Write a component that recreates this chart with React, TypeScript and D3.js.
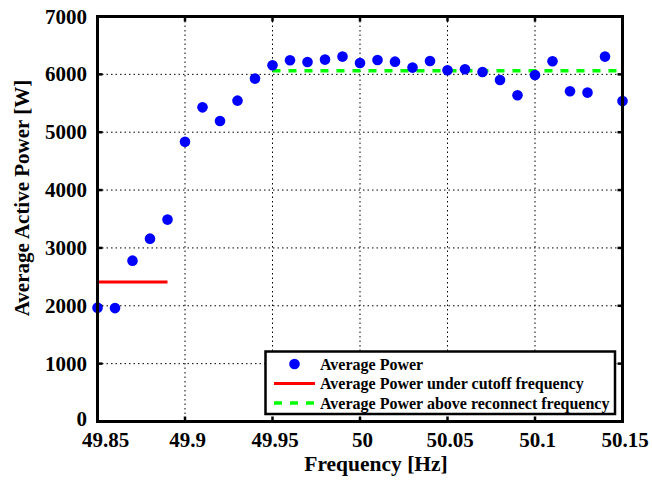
import React from "react";
import * as d3 from "d3";

const freqs = [49.85, 49.86, 49.87, 49.88, 49.89, 49.9, 49.91, 49.92, 49.93, 49.94, 49.95, 49.96, 49.97, 49.98, 49.99, 50.0, 50.01, 50.02, 50.03, 50.04, 50.05, 50.06, 50.07, 50.08, 50.09, 50.1, 50.11, 50.12, 50.13, 50.14, 50.15];
const powers = [1968, 1960, 2780, 3160, 3490, 4836, 5430, 5193, 5546, 5927, 6157, 6244, 6214, 6255, 6307, 6197, 6249, 6220, 6117, 6232, 6071, 6088, 6041, 5903, 5638, 5989, 6226, 5707, 5685, 6307, 5539];
const cutoffRange = [49.85, 49.89];
const cutoffPower = 2413;
const reconnectRange = [49.95, 50.15];
const reconnectPower = 6062;
const xTicks = [49.85, 49.9, 49.95, 50, 50.05, 50.1, 50.15];
const xTickLabels = ["49.85", "49.9", "49.95", "50", "50.05", "50.1", "50.15"];
const yTicks = [0, 1000, 2000, 3000, 4000, 5000, 6000, 7000];
const legendLabels = ["Average Power", "Average Power under cutoff frequency", "Average Power above reconnect frequency"];

export default function App() {
  const L = 97.5, R = 622.5, T = 16.5, B = 421.5;
  const x = d3.scaleLinear().domain([49.85, 50.15]).range([L, R]);
  const y = d3.scaleLinear().domain([0, 7000]).range([B, T]);
  const font = "'Liberation Serif', 'Times New Roman', serif";
  const line = d3.line<[number, number]>().x(d => x(d[0])).y(d => y(d[1]));
  const lx = 265.5, ly = 351.5, lw = 349.5, lh = 62.5;
  return (
    <svg width={652} height={483} style={{ position: "absolute", left: 0, top: 0, background: "#fff" }} fontFamily={font}>
      <rect x={0} y={0} width={652} height={483} fill="#fff" />
      {/* grid */}
      {xTicks.slice(1, -1).map((t, i) => (
        <line key={"gx" + i} x1={x(t)} x2={x(t)} y1={T} y2={B} stroke="#000" strokeWidth={1} strokeDasharray="1.5,3" />
      ))}
      {yTicks.slice(1, -1).map((t, i) => (
        <line key={"gy" + i} x1={L} x2={R} y1={y(t)} y2={y(t)} stroke="#000" strokeWidth={1} strokeDasharray="1.5,3" />
      ))}
      {/* ticks */}
      {xTicks.map((t, i) => (
        <g key={"tx" + i}>
          <line x1={x(t)} x2={x(t)} y1={B} y2={B - 5} stroke="#000" strokeWidth={2.5} />
          <line x1={x(t)} x2={x(t)} y1={T} y2={T + 5} stroke="#000" strokeWidth={2.5} />
          <text x={x(t) + (i === 0 ? 8 : 2.5)} y={446.5} textAnchor="middle" fontSize={21} fontWeight="bold">{xTickLabels[i]}</text>
        </g>
      ))}
      {yTicks.map((t, i) => (
        <g key={"ty" + i}>
          <line x1={L} x2={L + 5} y1={y(t)} y2={y(t)} stroke="#000" strokeWidth={2.5} />
          <line x1={R} x2={R - 5} y1={y(t)} y2={y(t)} stroke="#000" strokeWidth={2.5} />
          <text x={87} y={y(t) + (i === 0 ? 4 : 7)} textAnchor="end" fontSize={21} fontWeight="bold">{t}</text>
        </g>
      ))}
      {/* series */}
      <path d={line([[cutoffRange[0], cutoffPower], [cutoffRange[1], cutoffPower]]) || ""} stroke="#ff0000" strokeWidth={3} fill="none" />
      <path d={line([[reconnectRange[0], reconnectPower], [reconnectRange[1], reconnectPower]]) || ""} stroke="#00ff00" strokeWidth={3.5} strokeDasharray="8,8" fill="none" />
      {freqs.map((f, i) => (
        <circle key={"p" + i} cx={x(f)} cy={y(powers[i])} r={5.3} fill="#0000ff" />
      ))}
      {/* frame */}
      <rect x={L} y={T} width={R - L} height={B - T} fill="none" stroke="#000" strokeWidth={3} />
      {/* legend */}
      <rect x={lx} y={ly} width={lw} height={lh} fill="#fff" stroke="#000" strokeWidth={2.5} />
      <circle cx={294.5} cy={364} r={5.3} fill="#0000ff" />
      <line x1={274} x2={315} y1={383.5} y2={383.5} stroke="#ff0000" strokeWidth={3} />
      <line x1={274} x2={315} y1={403} y2={403} stroke="#00ff00" strokeWidth={3.5} strokeDasharray="8,8" />
      {legendLabels.map((s, i) => (
        <text key={"lg" + i} x={320} y={369.5 + i * 19.6} fontSize={16} fontWeight="bold">{s}</text>
      ))}
      {/* axis labels */}
      <text x={376} y={471} textAnchor="middle" fontSize={21.5} fontWeight="bold">Frequency [Hz]</text>
      <text transform={`translate(28.5, 198) rotate(-90)`} textAnchor="middle" fontSize={21} fontWeight="bold">Average Active Power [W]</text>
    </svg>
  );
}
